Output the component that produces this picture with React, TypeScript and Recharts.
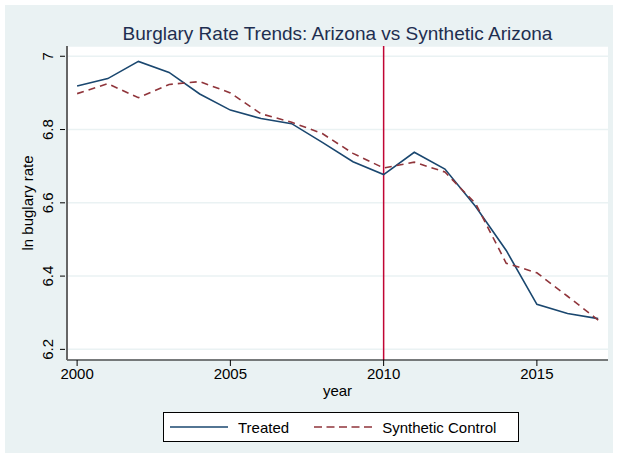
import {
  CartesianGrid,
  Line,
  LineChart,
  ReferenceLine,
  XAxis,
  YAxis,
} from 'recharts';

const years = [
  2000, 2001, 2002, 2003, 2004, 2005, 2006, 2007, 2008,
  2009, 2010, 2011, 2012, 2013, 2014, 2015, 2016, 2017,
];
const treated = [
  6.919, 6.939, 6.986, 6.956, 6.897, 6.853, 6.83, 6.816, 6.765,
  6.712, 6.677, 6.738, 6.692, 6.59, 6.47, 6.323, 6.298, 6.284,
];
const synthetic = [
  6.898, 6.925, 6.887, 6.923, 6.931, 6.9, 6.843, 6.82, 6.789,
  6.735, 6.695, 6.711, 6.684, 6.598, 6.435, 6.409, 6.345, 6.28,
];
const xTicks = [2000, 2005, 2010, 2015];
const yTicks = [6.2, 6.4, 6.6, 6.8, 7];
const treatmentYear = 2010;

const seriesNames = { treated: 'Treated', synthetic: 'Synthetic Control' };

const data = years.map((year, i) => ({
  year,
  treated: treated[i],
  synthetic: synthetic[i],
}));

const FONT = '"Liberation Sans", Arial, sans-serif';
const BG = '#EAF2F3';
const NAVY = '#1A476F';
const MAROON = '#90353B';

// rotated y tick labels, Stata style
const YTick = ({ x, y, payload }: any) => (
  <g>
    <line x1={x + 1} x2={x + 6} y1={y} y2={y} stroke="#000" strokeWidth={1} />
    <text
      x={x - 6}
      y={y}
      transform={`rotate(-90, ${x - 6}, ${y})`}
      textAnchor="middle"
      fontSize={15}
      fontFamily={FONT}
      fill="#000"
    >
      {String(payload.value)}
    </text>
  </g>
);

const YTitle = ({ viewBox }: any) => {
  const cx = viewBox.x + viewBox.width - 34;
  const cy = viewBox.y + viewBox.height / 2;
  return (
    <text
      x={cx}
      y={cy}
      transform={`rotate(-90, ${cx}, ${cy})`}
      textAnchor="middle"
      fontSize={15}
      fontFamily={FONT}
      fill="#000"
    >
      ln buglary rate
    </text>
  );
};

export default function App() {
  return (
    <div style={{ position: 'absolute', left: 0, top: 0, width: 618, height: 458, background: '#fff' }}>
      <div style={{ position: 'absolute', left: 5, top: 5, width: 608, height: 448, background: BG }} />
      <div
        style={{
          position: 'absolute',
          left: 67,
          width: 541,
          top: 23,
          textAlign: 'center',
          fontFamily: FONT,
          fontSize: 19,
          color: '#1E2E50',
          lineHeight: '22px',
        }}
      >
        Burglary Rate Trends: Arizona vs Synthetic Arizona
      </div>
      <div style={{ position: 'absolute', left: 0, top: 0 }}>
        <LineChart
          width={618}
          height={458}
          data={data}
          margin={{ top: 46, right: 10, bottom: 68, left: 7 }}
        >
          <CartesianGrid vertical={false} stroke={BG} strokeWidth={1.5} fill="#fff" />
          <XAxis
            dataKey="year"
            type="number"
            domain={[1999.67, 2017.32]}
            ticks={xTicks}
            allowDataOverflow
            height={30}
            axisLine={{ stroke: '#000', strokeWidth: 1.2 }}
            tickLine={{ stroke: '#000' }}
            tickSize={6}
            tick={{ fontSize: 15, fontFamily: FONT, fill: '#000' }}
            tickMargin={2}
            label={{
              value: 'year',
              position: 'insideBottom',
              offset: -6,
              fontSize: 15,
              fontFamily: FONT,
              fill: '#000',
            }}
          />
          <YAxis
            type="number"
            domain={[6.171, 7.028]}
            ticks={yTicks}
            allowDataOverflow
            width={60}
            axisLine={{ stroke: '#666', strokeWidth: 2 }}
            tickLine={false}
            tick={<YTick />}
            label={<YTitle />}
          />
          <ReferenceLine x={treatmentYear} stroke="#C10534" strokeWidth={1.5} />
          <Line
            type="linear"
            dataKey="treated"
            stroke={NAVY}
            strokeWidth={1.6}
            dot={false}
            isAnimationActive={false}
          />
          <Line
            type="linear"
            dataKey="synthetic"
            stroke={MAROON}
            strokeWidth={1.6}
            strokeDasharray="7 5"
            dot={false}
            isAnimationActive={false}
          />
        </LineChart>
      </div>
      <div
        style={{
          position: 'absolute',
          left: 163,
          top: 412,
          width: 356,
          height: 30,
          background: '#fff',
          border: '1px solid #000',
          boxSizing: 'border-box',
          fontFamily: FONT,
          fontSize: 15,
          color: '#000',
          display: 'flex',
          alignItems: 'center',
        }}
      >
        <svg width={58} height={10} style={{ marginLeft: 6 }}>
          <line x1={0} x2={58} y1={5} y2={5} stroke={NAVY} strokeWidth={1.6} />
        </svg>
        <span style={{ marginLeft: 10 }}>{seriesNames.treated}</span>
        <svg width={58} height={10} style={{ marginLeft: 25 }}>
          <line x1={0} x2={58} y1={5} y2={5} stroke={MAROON} strokeWidth={1.6} strokeDasharray="8 4.5" />
        </svg>
        <span style={{ marginLeft: 10 }}>{seriesNames.synthetic}</span>
      </div>
    </div>
  );
}
